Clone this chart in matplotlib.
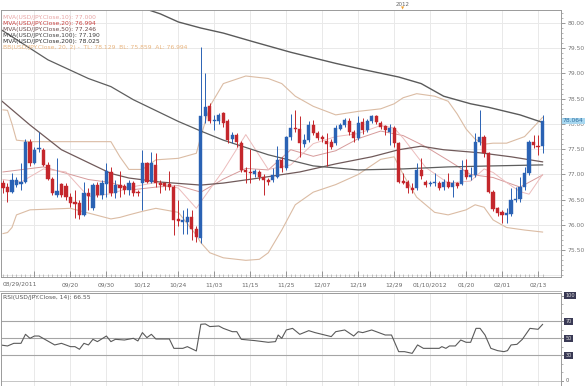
import matplotlib
matplotlib.use('Agg')
import matplotlib.pyplot as plt
import numpy as np

# USD/JPY daily bars, bar 1 = 08/30/2011 ... bar 121 = 02/14/2012
opens = [76.83, 76.76, 76.66, 76.80, 76.81, 76.86, 77.65, 77.23, 77.50, 77.48,
         77.19, 76.92, 76.59, 76.81, 76.78, 76.56, 76.46, 76.44, 76.20, 76.63,
         76.33, 76.80, 76.59, 76.81, 77.04, 76.63, 76.79, 76.78, 76.69, 76.83,
         76.66, 76.83, 77.22, 76.86, 77.19, 76.84, 76.83, 76.81, 76.76, 76.12,
         76.06, 76.05, 76.15, 75.93, 75.74, 78.15, 78.36, 78.06, 78.05, 78.21,
         78.05, 77.70, 77.79, 77.63, 77.09, 77.05, 77.01, 77.04, 76.96, 76.89,
         76.89, 76.96, 77.29, 77.12, 77.74, 77.93, 77.91, 77.60, 77.68, 77.97,
         77.83, 77.75, 77.67, 77.65, 77.62, 77.91, 77.98, 78.05, 77.84, 77.72,
         78.03, 77.88, 78.05, 78.15, 78.01, 77.96, 77.85, 77.93, 77.62, 76.88,
         76.86, 76.73, 76.73, 77.08, 76.86, 76.81, 76.84, 76.84, 76.76, 76.86,
         76.76, 76.83, 76.81, 77.08, 76.96, 76.99, 77.65, 77.75, 77.43, 76.66,
         76.33, 76.26, 76.20, 76.21, 76.50, 76.51, 76.76, 77.02, 77.65, 77.56,
         77.56]
highs = [76.90, 76.83, 77.02, 76.96, 77.22, 77.70, 77.70, 77.55, 77.85, 77.52,
         77.25, 76.96, 77.32, 76.84, 76.83, 76.63, 76.69, 76.50, 76.86, 76.73,
         76.83, 76.85, 76.90, 77.22, 77.15, 76.89, 77.06, 76.82, 76.89, 76.88,
         76.70, 77.49, 77.25, 77.45, 77.42, 76.89, 76.86, 77.06, 76.79, 76.49,
         76.30, 76.33, 76.30, 75.97, 79.53, 79.00, 78.41, 78.18, 78.22, 78.24,
         78.10, 77.85, 77.83, 77.66, 77.15, 77.50, 77.10, 77.08, 77.00, 76.93,
         77.12, 77.56, 77.35, 77.76, 78.20, 78.28, 78.15, 77.81, 78.05, 78.08,
         77.87, 77.78, 77.82, 77.70, 77.98, 78.02, 78.11, 78.11, 77.88, 78.15,
         78.11, 78.10, 78.18, 78.18, 78.05, 77.98, 78.00, 77.96, 77.65, 77.02,
         76.89, 76.83, 77.22, 77.32, 76.90, 76.88, 77.02, 76.88, 76.92, 77.02,
         76.89, 76.86, 77.29, 77.30, 77.15, 77.82, 78.28, 77.78, 77.45, 76.69,
         76.36, 76.30, 76.33, 76.73, 76.76, 76.96, 77.15, 77.68, 77.78, 77.78,
         78.18]
lows = [76.63, 76.46, 76.63, 76.76, 76.69, 76.83, 77.16, 77.21, 77.45, 77.16,
        76.89, 76.59, 76.56, 76.56, 76.49, 76.36, 76.13, 76.11, 76.17, 76.30,
        76.30, 76.55, 76.52, 76.56, 76.58, 76.53, 76.56, 76.62, 76.59, 76.58,
        76.58, 76.30, 76.83, 76.83, 76.76, 76.63, 76.70, 76.69, 75.80, 75.97,
        75.83, 75.83, 75.70, 75.67, 75.64, 78.01, 78.01, 77.88, 78.00, 77.95,
        77.62, 77.62, 77.55, 77.05, 76.83, 76.83, 76.95, 76.90, 76.59, 76.80,
        76.85, 76.93, 77.05, 77.09, 77.68, 77.85, 77.35, 77.55, 77.65, 77.78,
        77.68, 77.65, 77.16, 77.50, 77.58, 77.88, 77.95, 77.78, 77.65, 77.68,
        77.81, 77.85, 78.01, 78.00, 77.91, 77.78, 77.58, 77.55, 76.83, 76.82,
        76.63, 76.63, 76.69, 76.92, 76.75, 76.78, 76.78, 76.69, 76.69, 76.73,
        76.56, 76.74, 76.79, 76.92, 76.89, 76.96, 77.58, 77.35, 76.63, 76.27,
        76.17, 76.03, 76.03, 76.18, 76.46, 76.46, 76.69, 76.99, 77.52, 77.39,
        77.42]
closes = [76.73, 76.66, 76.90, 76.90, 76.86, 77.65, 77.22, 77.48, 77.53, 77.19,
          76.92, 76.63, 76.68, 76.59, 76.56, 76.43, 76.42, 76.20, 76.63, 76.57,
          76.79, 76.59, 76.83, 77.06, 76.63, 76.79, 76.73, 76.69, 76.83, 76.63,
          76.63, 77.22, 76.86, 77.22, 76.83, 76.79, 76.78, 76.76, 76.10, 76.08,
          76.09, 76.15, 75.93, 75.77, 78.15, 78.34, 78.05, 78.08, 78.18, 78.01,
          77.68, 77.79, 77.65, 77.09, 77.04, 77.02, 77.06, 76.96, 76.89, 76.85,
          76.99, 77.29, 77.12, 77.74, 77.93, 77.91, 77.62, 77.68, 77.98, 77.82,
          77.72, 77.70, 77.60, 77.55, 77.93, 77.98, 78.07, 77.85, 77.72, 78.01,
          77.88, 78.05, 78.15, 78.03, 77.95, 77.88, 77.93, 77.62, 76.86, 76.84,
          76.73, 76.69, 77.08, 76.97, 76.79, 76.84, 76.85, 76.73, 76.86, 76.76,
          76.84, 76.77, 77.08, 76.96, 76.99, 77.65, 77.75, 77.42, 76.66, 76.31,
          76.24, 76.20, 76.24, 76.50, 76.52, 76.76, 77.02, 77.65, 77.58, 77.54,
          78.064]

# indicator lines, sampled off the chart (bar index, value)
ma200_idx = [30, 36, 40, 45, 50, 57, 65, 75, 81, 89, 94, 99, 105, 109, 116, 121]
ma200_val = [80.36, 80.18, 80.02, 79.90, 79.80, 79.62, 79.42, 79.20, 79.08, 78.93,
             78.80, 78.55, 78.40, 78.33, 78.18, 78.03]
ma100_idx = [0, 11, 20, 25, 30, 40, 45, 50, 60, 70, 80, 90, 100, 110, 121]
ma100_val = [79.90, 79.27, 78.90, 78.74, 78.48, 78.05, 77.86, 77.68, 77.39, 77.17,
             77.09, 77.11, 77.15, 77.17, 77.19]
ma50_idx = [0, 7, 14, 25, 29, 36, 45, 50, 58, 67, 75, 83, 89, 94, 99, 107, 114, 121]
ma50_val = [78.51, 77.98, 77.49, 77.02, 76.93, 76.85, 76.79, 76.83, 76.93, 77.05,
            77.21, 77.35, 77.49, 77.56, 77.49, 77.43, 77.35, 77.25]
ma10_idx = [1, 5, 10, 15, 20, 25, 30, 35, 40, 44, 45, 50, 55, 60, 65, 70, 75, 80,
            85, 88, 90, 95, 100, 105, 108, 110, 113, 116, 118, 121]
ma10_val = [76.90, 76.85, 77.11, 77.05, 76.56, 76.62, 76.76, 76.84, 76.73, 76.33,
            76.46, 77.08, 77.79, 77.10, 77.19, 77.61, 77.75, 77.81, 77.97, 77.92,
            77.72, 77.14, 76.83, 76.87, 77.11, 77.04, 76.84, 76.66, 76.61, 77.00]
ma20_idx = [1, 10, 20, 25, 30, 35, 40, 45, 50, 55, 60, 65, 70, 75, 80, 85, 90, 95,
            100, 105, 110, 116, 121]
ma20_val = [77.05, 77.15, 76.90, 76.84, 76.70, 76.75, 76.78, 76.65, 76.91, 77.12,
            77.09, 77.49, 77.36, 77.47, 77.71, 77.86, 77.77, 77.55, 77.28, 77.00,
            76.94, 76.75, 76.99]
bb_idx = [1, 2, 3, 4, 7, 16, 25, 27, 29, 32, 35, 40, 44, 45, 47, 50, 55, 58, 60,
          63, 66, 70, 75, 80, 85, 88, 90, 93, 97, 100, 102, 104, 106, 108, 110,
          113, 117, 121]
bb_up = [78.28, 78.27, 78.00, 77.68, 77.65, 77.65, 77.65, 77.35, 77.10, 77.10,
         77.29, 77.32, 77.42, 77.75, 78.35, 78.80, 78.95, 78.92, 78.90, 78.80,
         78.55, 78.35, 78.18, 78.25, 78.30, 78.40, 78.52, 78.60, 78.55, 78.45,
         78.20, 77.90, 77.70, 77.60, 77.62, 77.62, 77.75, 78.13]
bb_lo = [75.83, 75.85, 75.95, 76.20, 76.30, 76.33, 76.12, 76.15, 76.20, 76.27,
         76.33, 76.25, 75.80, 75.65, 75.45, 75.35, 75.30, 75.32, 75.45, 75.90,
         76.40, 76.65, 76.80, 77.00, 77.30, 77.35, 77.00, 76.55, 76.25, 76.20,
         76.25, 76.30, 76.40, 76.35, 76.10, 75.95, 75.90, 75.86]

rsi_idx = [0.4, 2, 3.4, 5, 6, 7, 8, 9, 12.5, 14, 16, 17, 18, 19, 20, 21, 22,
           24, 25, 26, 28, 30, 31, 32, 33, 34, 35, 38, 39, 41, 42, 44, 45, 46,
           47, 49, 50, 52, 53, 54, 57, 60, 61.6, 62.2, 63, 64, 65.4, 67, 69,
           70.4, 74, 75, 77, 79, 80, 81, 83, 86, 87.4, 89, 90.3, 92, 93.2, 94.5,
           98, 98.6, 99.5, 100.3, 101.6, 102.8, 104, 105, 106.2, 107.1, 108.2,
           109.5, 111, 112.4, 113.2, 114, 115.3, 116.5, 118.2, 120, 121]
rsi_val = [42.4, 41.2, 44.3, 44.3, 54.9, 50.2, 52.9, 52.9, 42.4, 44.3, 40.4, 40.4,
           37.3, 44.3, 42.4, 49.0, 46.3, 52.9, 46.3, 49.0, 48.2, 50.2, 47.1, 56.9,
           51.0, 54.9, 49.4, 49.4, 38.4, 38.4, 40.4, 35.3, 66.7, 67.1, 64.0, 64.7,
           61.9, 58.0, 58.0, 49.0, 47.5, 45.5, 46.3, 54.1, 50.2, 60.0, 61.9, 54.9,
           59.2, 56.9, 52.2, 58.0, 60.0, 52.9, 58.0, 56.9, 60.0, 54.1, 54.1, 34.5,
           34.5, 32.5, 42.4, 38.4, 38.4, 40.4, 38.4, 41.2, 41.2, 48.2, 45.5, 45.5,
           61.9, 61.9, 54.1, 38.4, 35.7, 34.5, 35.7, 42.4, 43.1, 49.0, 61.9, 60.8,
           66.55]

tick_idx = [8, 16, 24, 32, 40, 48, 56, 64, 72, 80, 88, 96, 104, 112, 120]
tick_lbl = ['', '09/20', '09/30', '10/12', '10/24', '11/03', '11/15', '11/25',
            '12/07', '12/19', '12/29', '01/10/2012', '01/20', '02/01', '02/13']

W, H = 587, 386
def rect(x0, y0, x1, y1):
    return [x0 / W, 1 - y1 / H, (x1 - x0) / W, (y1 - y0) / H]

fig = plt.figure(figsize=(W / 100, H / 100), dpi=100)
fig.patch.set_facecolor('white')
ax = fig.add_axes(rect(0.5, 10, 561, 277))
ax2 = fig.add_axes(rect(0.5, 293, 561, 386))

up_c, dn_c = '#2a62b4', '#c4272c'
bars = np.arange(1, len(closes) + 1)
o, h, l, c = map(np.array, (opens, highs, lows, closes))
cols = np.where(c >= o, up_c, dn_c)
body_lo = np.minimum(o, c)
body_h = np.maximum(np.abs(c - o), 0.015)

grid_c = '#e9e9e9'
for t in [0] + tick_idx:
    ax.axvline(t, color=grid_c, lw=0.7, zorder=0)
    ax2.axvline(t, color=grid_c, lw=0.7, zorder=0)
for v in np.arange(75.0, 80.01, 0.5):
    ax.axhline(v, color=grid_c, lw=0.7, zorder=0)

ax.plot(bb_idx, bb_up, color='#dbbca4', lw=0.8, zorder=1)
ax.plot(bb_idx, bb_lo, color='#dbbca4', lw=0.8, zorder=1)
ax.plot(ma20_idx, ma20_val, color='#d69a9a', lw=0.7, zorder=1)
ax.plot(ma10_idx, ma10_val, color='#ecbcbc', lw=0.7, zorder=1)
ax.plot(ma50_idx, ma50_val, color='#705a5a', lw=0.9, zorder=1)
ax.plot(ma100_idx, ma100_val, color='#5e5e5e', lw=0.9, zorder=1)
ax.plot(ma200_idx, ma200_val, color='#5a5a5a', lw=1.0, zorder=1)

ax.vlines(bars, l, h, colors=cols, lw=0.7, zorder=2)
ax.bar(bars, body_h, bottom=body_lo, width=0.72, color=cols, edgecolor=cols,
       lw=0.3, zorder=3)

ax.set_xlim(0.444, 125.1)
ax.set_ylim(74.97, 80.257)
for a in (ax, ax2):
    a.set_facecolor('white')
    for s in ('top', 'bottom', 'right', 'left'):
        a.spines[s].set_color('#9a9a9a')
        a.spines[s].set_linewidth(0.7)

ax.yaxis.tick_right()
ax.set_yticks(np.arange(75.5, 80.01, 0.5))
ax.set_yticklabels(['%.2f' % v for v in np.arange(75.5, 80.01, 0.5)])
ax.set_yticks(np.arange(75.0, 80.21, 0.1), minor=True)
ax.tick_params(axis='y', which='major', length=3, width=0.6, color='#888888',
               labelsize=4.3, labelcolor='#777777', pad=1.5)
ax.tick_params(axis='y', which='minor', length=1.5, width=0.5, color='#999999')
ax.set_xticks(tick_idx)
ax.set_xticklabels(tick_lbl)
ax.set_xticks(bars, minor=True)
ax.tick_params(axis='x', which='major', direction='in', length=4, width=0.6,
               color='#888888', labelsize=4.3, labelcolor='#666666', pad=4)
ax.tick_params(axis='x', which='minor', direction='in', length=2, width=0.4,
               color='#999999')
ax.text(0.003, -0.015, '08/29/2011', transform=ax.transAxes, fontsize=4.3,
        color='#666666', ha='left', va='top')

legend_lines = [
    ('MVA(USD/JPY.Close,10): 77.000', '#e7a3a3'),
    ('MVA(USD/JPY.Close,20): 76.994', '#c8403f'),
    ('MVA(USD/JPY.Close,50): 77.246', '#6a4848'),
    ('MVA(USD/JPY.Close,100): 77.190', '#404040'),
    ('MVA(USD/JPY.Close,200): 78.025', '#303030'),
    ('BB(USD/JPY.Close, 20, 2) -  TL: 78.129  BL: 75.859  AL: 76.994', '#e9b57f'),
]
for k, (txt, col) in enumerate(legend_lines):
    fig.text(3 / W, 1 - (17 + 6.1 * k) / H, txt, fontsize=4.3, color=col,
             va='center', ha='left')

fig.text(563 / W, 1 - 121 / H, '78.064', fontsize=4.3, color='#2f6f9f',
         va='center', ha='left',
         bbox=dict(boxstyle='square,pad=0.15', fc='#a9d8f0', ec='none'))
fig.text(403 / W, 1 - 4 / H, '2012', fontsize=4, color='#666666',
         va='center', ha='center')
fig.text(403 / W, 1 - 8.5 / H, '\u25bc', fontsize=3, color='#f0a030',
         va='center', ha='center')

# RSI panel
ax2.plot(rsi_idx, rsi_val, color='#5a5a5a', lw=0.8, zorder=2)
for v in (70, 50, 30):
    ax2.axhline(v, color='#a5a5a5', lw=0.8, zorder=1)
ax2.axhline(0, color='#bbbbbb', lw=0.6, zorder=1)
ax2.set_xlim(0.444, 125.1)
ax2.set_ylim(-5.9, 103.5)
ax2.set_xticks([])
ax2.yaxis.tick_right()
ax2.set_yticks([0, 30, 50, 70, 100])
ax2.set_yticklabels([])
ax2.set_yticks(np.arange(0, 101, 10), minor=True)
ax2.tick_params(axis='y', which='major', length=3, width=0.6, color='#888888')
ax2.tick_params(axis='y', which='minor', length=1.5, width=0.5, color='#999999')
ax2.spines['bottom'].set_visible(False)
for v in (100, 70, 50, 30, 0):
    ax2.text(1.008, v, str(v), transform=ax2.get_yaxis_transform(), fontsize=3.6,
             color='#dddddd' if v else '#555555', va='center', ha='left',
             bbox=dict(boxstyle='square,pad=0.2', fc='#3a3a55' if v else 'white',
                       ec='none'))
fig.text(3 / W, 1 - 298 / H, 'RSI(USD/JPY.Close, 14): 66.55', fontsize=4.3,
         color='#555555', va='center', ha='left')
fig.add_artist(plt.Line2D([0, 561 / W], [1 - 291 / H, 1 - 291 / H],
                          color='#b5b5b5', lw=0.7))

fig.savefig('out.png', dpi=100, facecolor='white')
